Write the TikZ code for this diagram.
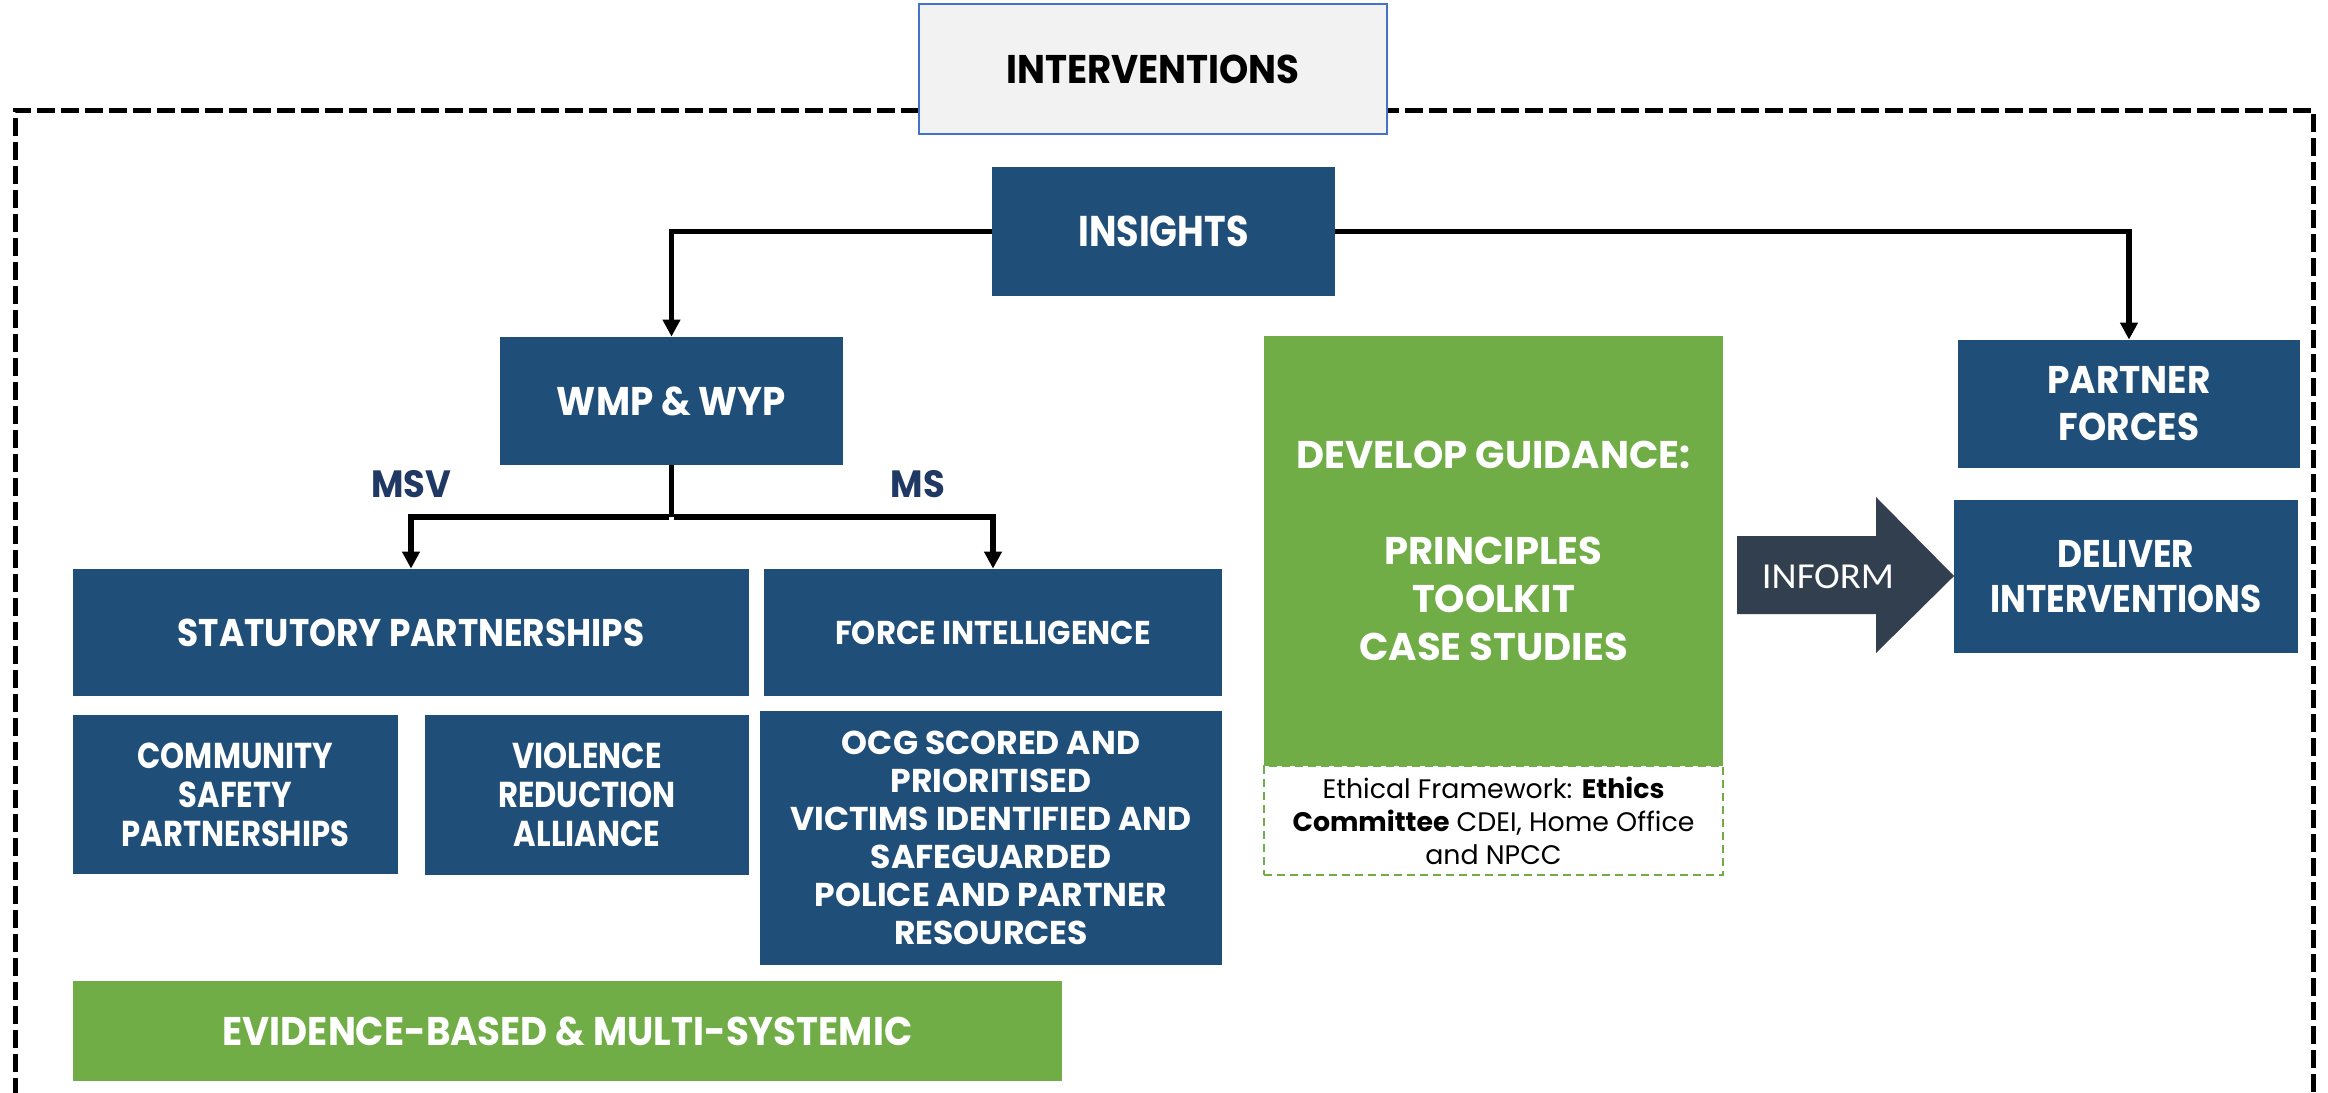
\documentclass[tikz,border=0pt]{standalone}
\usepackage{fontspec}
\setmainfont{Poppins}[FakeStretch=0.85]
\newfontfamily\fsA{Poppins}[FakeStretch=0.85]
\newfontfamily\fsB{Poppins}[FakeStretch=0.89]
\newfontfamily\fsC{Poppins}[FakeStretch=0.93]
\newfontfamily\fsD{Poppins}[FakeStretch=1.0]
\newfontfamily\calib{Carlito}[FakeStretch=1.06]
\usetikzlibrary{arrows.meta}
\definecolor{nblue}{HTML}{1F4E79}
\definecolor{ngreen}{HTML}{70AD47}
\definecolor{ardark}{HTML}{323F4F}
\definecolor{lblue}{HTML}{4472C4}
\definecolor{tgray}{HTML}{F2F2F2}
\definecolor{navy}{HTML}{1F3864}
\newcommand\fsz[2]{\fontsize{#1}{#2}\selectfont}
\tikzset{
  bbox/.style={fill=nblue, text=white, align=center, inner sep=0pt},
  gbox/.style={fill=ngreen, text=white, align=center, inner sep=0pt},
  conn/.style={line width=2.7pt, -{Triangle[length=8.5pt,width=8.5pt]}},
  plain/.style={line width=2.7pt},
  lbl/.style={text=navy, font=\fsC\bfseries\fsz{19}{22}, inner sep=0pt}
}
\begin{document}
\begin{tikzpicture}[x=0.5pt,y=-0.5pt]
\useasboundingbox (0,0) rectangle (2328,1092);
% outer dashed frame
\draw[line width=2.5pt, dash pattern=on 9pt off 3pt] (15,1120) -- (15,110) -- (2313,110) -- (2313,1120);
% title
\node[fill=tgray, draw=lblue, line width=1pt, minimum width=234pt, minimum height=65pt, inner sep=0pt, font=\fsC\bfseries\fsz{20}{24}] (title) at (1153,69) {INTERVENTIONS};
% main nodes
\node[bbox, minimum width=171.5pt, minimum height=64.5pt, font=\fsA\bfseries\fsz{21.5}{26}] (insights) at (1163.5,231.5) {INSIGHTS};
\node[bbox, minimum width=171.5pt, minimum height=64pt, font=\fsC\bfseries\fsz{20}{24}] (wmp) at (671.5,401) {WMP \& WYP};
\node[bbox, minimum width=171pt, minimum height=64pt, font=\fsC\bfseries\fsz{19.3}{23.5}] (partner) at (2129,404) {PARTNER\\FORCES};
\node[bbox, minimum width=172pt, minimum height=76.5pt, font=\fsB\bfseries\fsz{19.3}{22.5}] (deliver) at (2126,576.5) {DELIVER\\INTERVENTIONS};
\node[gbox, minimum width=229.5pt, minimum height=215pt, font=\fsD\bfseries\fsz{19.3}{24}] (guidance) at (1493.5,551) {DEVELOP GUIDANCE:\\[24pt]PRINCIPLES\\TOOLKIT\\CASE STUDIES};
\node[draw=ngreen, line width=1pt, dash pattern=on 4pt off 2.5pt, minimum width=229.5pt, minimum height=54.5pt, inner sep=0pt, align=center, font=\fsD\fsz{13.4}{16.5}] (ethics) at (1493.5,820.5) {Ethical Framework: \textbf{Ethics}\\\textbf{Committee} CDEI, Home Office\\and NPCC};
\node[bbox, minimum width=338pt, minimum height=63.5pt, font=\fsB\bfseries\fsz{19.3}{23}] (statutory) at (411,632.5) {STATUTORY PARTNERSHIPS};
\node[bbox, minimum width=229pt, minimum height=63.5pt, font=\fsC\bfseries\fsz{16.5}{20}] (force) at (993,632.5) {FORCE INTELLIGENCE};
\node[bbox, minimum width=162.5pt, minimum height=79.5pt, font=\fsA\bfseries\fsz{18}{19.5}] (community) at (235.5,794.5) {COMMUNITY\\SAFETY\\PARTNERSHIPS};
\node[bbox, minimum width=162pt, minimum height=80pt, font=\fsA\bfseries\fsz{18}{19.5}] (violence) at (587,795) {VIOLENCE\\REDUCTION\\ALLIANCE};
\node[bbox, minimum width=231pt, minimum height=127pt, font=\fsD\bfseries\fsz{16.5}{19}] (ocg) at (991,838) {OCG SCORED AND\\PRIORITISED\\VICTIMS IDENTIFIED AND\\SAFEGUARDED\\POLICE AND PARTNER\\RESOURCES};
\node[gbox, minimum width=494.5pt, minimum height=50pt, font=\fsC\bfseries\fsz{20}{24}] (evidence) at (567.5,1031) {EVIDENCE-BASED \& MULTI-SYSTEMIC};
% inform arrow
\fill[ardark] (1737,536) -- (1876,536) -- (1876,497) -- (1954,576) -- (1876,653) -- (1876,614) -- (1737,614) -- cycle;
\node[text=white, inner sep=0pt, font=\calib\fsz{18.3}{20}] (inform) at (1828,577) {INFORM};
% connectors
\draw[conn] (insights.west) -| (wmp.north);
\draw[conn] (insights.east) -| (partner.north);
\coordinate (split) at (671.5,517);
\draw[plain] (wmp.south) -- (split);
\draw[conn] ([xshift=-1.35pt]split) -| (statutory.north);
\draw[conn] ([xshift=1.35pt]split) -| (force.north);
% labels
\node[lbl] (msv) at (411,484) {MSV};
\node[lbl] (ms) at (918,484) {MS};
\end{tikzpicture}
\end{document}
